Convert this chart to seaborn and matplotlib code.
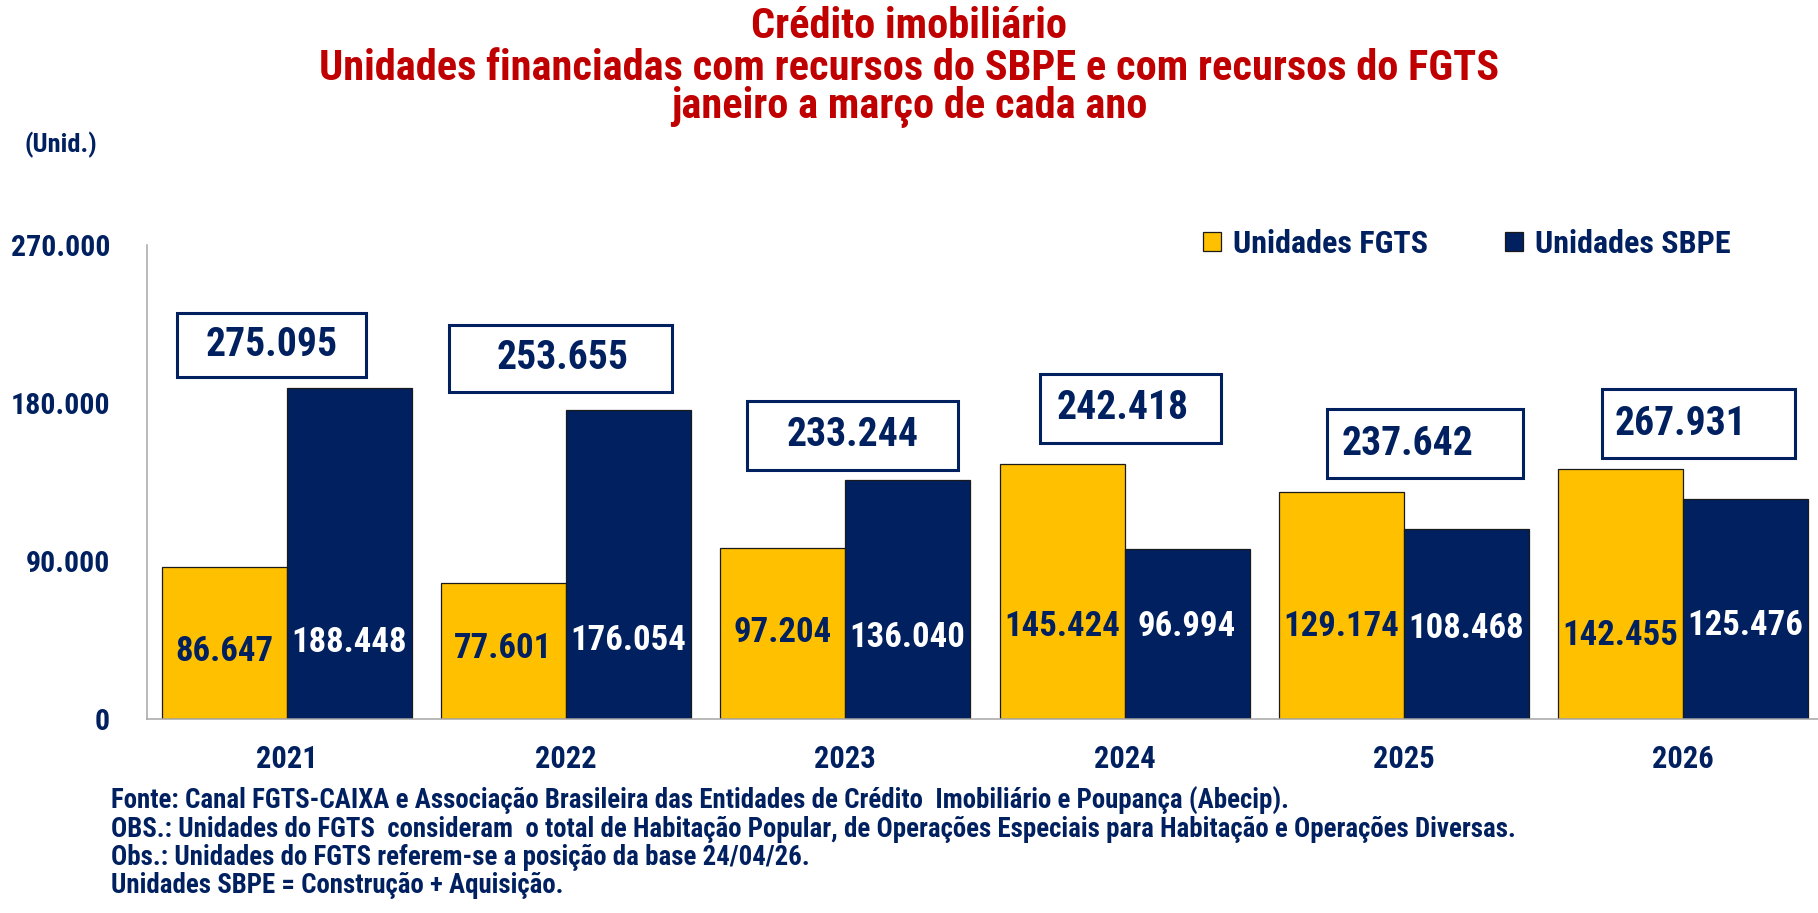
import matplotlib

matplotlib.use("Agg")
import matplotlib.pyplot as plt
import pandas as pd
import seaborn as sns
from matplotlib.patches import Patch, Rectangle
from matplotlib.ticker import FuncFormatter

ANOS = ["2021", "2022", "2023", "2024", "2025", "2026"]
UNIDADES_FGTS = [86647, 77601, 97204, 145424, 129174, 142455]
UNIDADES_SBPE = [188448, 176054, 136040, 96994, 108468, 125476]
SERIES = ["Unidades FGTS", "Unidades SBPE"]
Y_TICKS = [0, 90000, 180000, 270000]

TITULO = [
    "Crédito imobiliário",
    "Unidades financiadas com recursos do SBPE e com recursos do FGTS",
    "janeiro a março de cada ano",
]
NOTAS = [
    "Fonte: Canal FGTS-CAIXA e Associação Brasileira das Entidades de Crédito  Imobiliário e Poupança (Abecip).",
    "OBS.: Unidades do FGTS  consideram  o total de Habitação Popular, de Operações Especiais para Habitação e Operações Diversas.",
    "Obs.: Unidades do FGTS referem-se a posição da base 24/04/26.",
    "Unidades SBPE = Construção + Aquisição.",
]

# layout of the hand-placed labels (data coordinates)
LABEL_Y_FGTS = [38500, 40000, 49000, 52500, 52500, 47500]
LABEL_Y_SBPE = [43500, 45000, 46500, 52500, 51500, 53500]
TOTAL_BOX = [
    (-0.393, 0.284, 194800, 231000),
    (0.582, 1.381, 186100, 224700),
    (1.648, 2.403, 142000, 181300),
    (2.697, 3.345, 157400, 196400),
    (3.724, 4.426, 137000, 176600),
    (4.708, 5.399, 148400, 187800),
]
TOTAL_TEXT_X = [-0.055, 0.987, 2.028, 2.994, 4.015, 4.99]

AMARELO = "#FFC000"
AZUL = "#002060"
VERMELHO = "#C00000"
CINZA = "#A6A6A6"


def fmt(value: float) -> str:
    return f"{int(round(value)):,}".replace(",", ".")


sns.set_style("white")
plt.rcParams["font.family"] = ["Roboto Condensed", "DejaVu Sans"]
plt.rcParams["font.weight"] = "bold"

frame = pd.DataFrame(
    {
        "ano": ANOS * 2,
        "serie": [SERIES[0]] * len(ANOS) + [SERIES[1]] * len(ANOS),
        "unidades": UNIDADES_FGTS + UNIDADES_SBPE,
    }
)

fig = plt.figure(figsize=(18.18, 9.13), dpi=100)
ax = fig.add_axes([147 / 1818, 1 - 719 / 913, 6 * 279.3 / 1818, (719 - 245) / 913])

sns.barplot(
    data=frame,
    x="ano",
    y="unidades",
    hue="serie",
    hue_order=SERIES,
    palette=[AMARELO, AZUL],
    saturation=1,
    width=0.895,
    edgecolor="#1A1A1A",
    linewidth=0.9,
    errorbar=None,
    legend=False,
    ax=ax,
)

ax.set_xlim(-0.5, 5.5)
ax.set_ylim(0, 270000)
ax.set_xlabel("")
ax.set_ylabel("")
for side in ["top", "right"]:
    ax.spines[side].set_visible(False)
for side in ["left", "bottom"]:
    ax.spines[side].set_color(CINZA)
    ax.spines[side].set_linewidth(1.1)

ax.set_yticks(Y_TICKS)
ax.yaxis.set_major_formatter(FuncFormatter(lambda v, _: fmt(v)))
ax.tick_params(axis="y", length=6.5, width=1.1, color=CINZA, pad=20, labelsize=21.5, labelcolor=AZUL)

ax.set_xticks([i - 0.5 for i in range(len(ANOS) + 1)])
ax.set_xticklabels([])
ax.set_xticks(range(len(ANOS)), minor=True)
ax.set_xticklabels(ANOS, minor=True)
ax.tick_params(axis="x", which="major", length=6.5, width=1.1, color=CINZA)
ax.tick_params(axis="x", which="minor", length=0, pad=18, labelsize=22, labelcolor=AZUL)

# values inside bars
for bars, heights, color in [
    (ax.containers[0], LABEL_Y_FGTS, AZUL),
    (ax.containers[1], LABEL_Y_SBPE, "white"),
]:
    for bar, y in zip(bars, heights):
        ax.text(
            bar.get_x() + bar.get_width() / 2,
            y,
            fmt(bar.get_height()),
            ha="center",
            va="center",
            fontsize=25,
            fontweight="bold",
            color=color,
        )

# totals in boxes
for fgts, sbpe, (x0, x1, y0, y1), tx in zip(UNIDADES_FGTS, UNIDADES_SBPE, TOTAL_BOX, TOTAL_TEXT_X):
    ax.add_patch(
        Rectangle((x0, y0), x1 - x0, y1 - y0, facecolor="white", edgecolor=AZUL, linewidth=2.2, clip_on=False, zorder=5)
    )
    ax.text(tx, (y0 + y1) / 2, fmt(fgts + sbpe), ha="center", va="center", fontsize=28.5,
            fontweight="bold", color=AZUL, zorder=6)

handles = [
    Patch(facecolor=AMARELO, edgecolor="#1A1A1A", linewidth=0.9),
    Patch(facecolor=AZUL, edgecolor="#1A1A1A", linewidth=0.9),
]
legend = fig.legend(
    handles,
    SERIES,
    loc="center left",
    bbox_to_anchor=(1203 / 1818, 1 - 244 / 913),
    ncol=2,
    frameon=False,
    fontsize=23,
    handlelength=0.55,
    handleheight=0.55,
    handletextpad=0.4,
    columnspacing=2.4,
    borderpad=0,
    borderaxespad=0,
)
for text in legend.get_texts():
    text.set_color(AZUL)

for line, y in zip(TITULO, [27, 68, 107]):
    fig.text(0.5, 1 - y / 913, line, ha="center", va="center", fontsize=30.5, fontweight="bold", color=VERMELHO)

fig.text(25 / 1818, 1 - 145 / 913, "(Unid.)", ha="left", va="center", fontsize=19, fontweight="bold", color=AZUL)

for line, y in zip(NOTAS, [801, 829, 857, 885]):
    fig.text(111 / 1818, 1 - y / 913, line, ha="left", va="center", fontsize=19.4, fontweight="bold", color=AZUL)

fig.savefig("out.png", dpi=100, facecolor="white")
